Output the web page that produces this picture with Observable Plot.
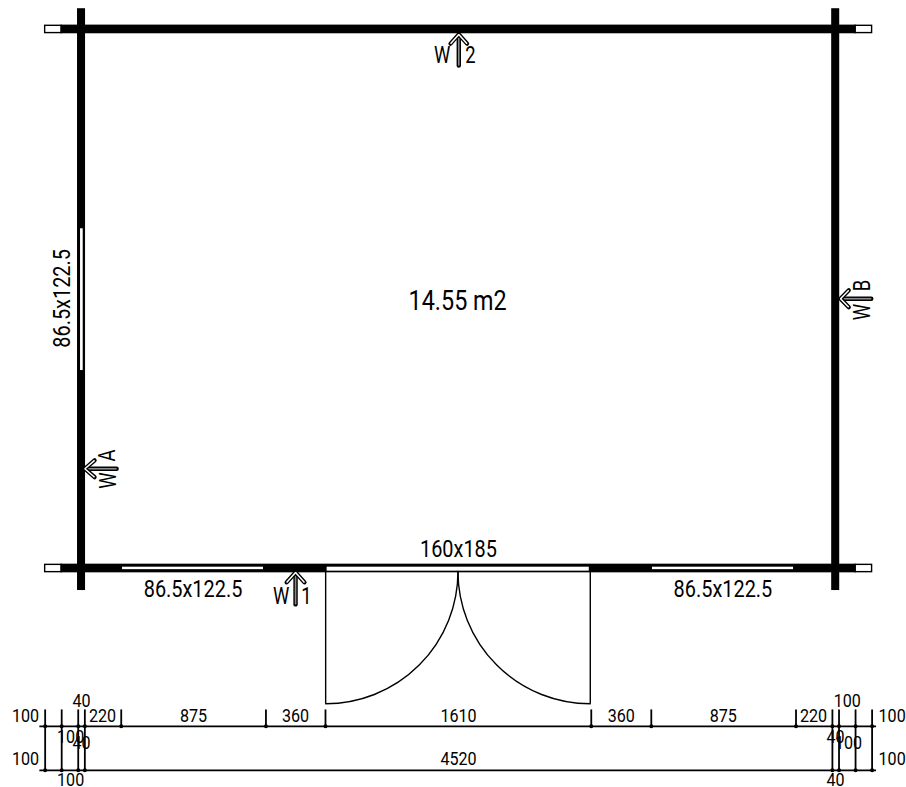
<!DOCTYPE html>
<html>
<head>
<meta charset="utf-8">
<script src="https://cdn.jsdelivr.net/npm/d3@7"></script>
<script src="https://cdn.jsdelivr.net/npm/@observablehq/plot@0.6"></script>
<style>
html,body{margin:0;padding:0;background:#fff}
svg{display:block}
</style>
</head>
<body>
<div id="chart"></div>
<script>
const wallsH = [
  {x1:-140, x2:4660, y1:-22, y2:22},
  {x1:-140, x2:4660, y1:3237, y2:3281}
];
const wallsV = [
  {x1:-40, x2:0, y1:-121, y2:3388},
  {x1:4520, x2:4560, y1:-121, y2:3388}
];
const wallEnds = [
  {x1:-240, x2:-140, y1:-22, y2:22},
  {x1:4660, x2:4760, y1:-22, y2:22},
  {x1:-240, x2:-140, y1:3237, y2:3281},
  {x1:4660, x2:4760, y1:3237, y2:3281}
];
const openings = [
  {x1:228, x2:1080, y1:3251, y2:3266},
  {x1:3432, x2:4285, y1:3251, y2:3266},
  {x1:1465, x2:3050, y1:3251, y2:3275},
  {x1:-26, x2:-10, y1:1205, y2:2062}
];
const doorJambs = [
  {x:1456, y1:3277, y2:4077},
  {x:3056, y1:3277, y2:4077}
];
const doorSwings = [
  {s:"L", x:1456, y:4077}, {s:"L", x:2256, y:4077}, {s:"L", x:2256, y:3277},
  {s:"R", x:3056, y:4077}, {s:"R", x:2256, y:4077}, {s:"R", x:2256, y:3277}
];
const dimRows = [4213, 4479];
const dimSpan = [-272, 4787];
const shortTicks = [220, 1095, 1455, 3062, 3425, 4300];
const longTicks = [-240, -140, -40, 0, 4520, 4560, 4660, 4760];
const tickTop = 4114;
const tickBottom = 4490;

const arrowHeads = [
  {a:"2", x:2211, y:86}, {a:"2", x:2261, y:30}, {a:"2", x:2311, y:86},
  {a:"1", x:1220, y:3343}, {a:"1", x:1274, y:3283}, {a:"1", x:1328, y:3343},
  {a:"A", x:59, y:2605}, {a:"A", x:0, y:2656}, {a:"A", x:59, y:2707},
  {a:"B", x:4619, y:1577}, {a:"B", x:4569, y:1628}, {a:"B", x:4619, y:1679}
];
const arrowShafts = [
  {a:"2", x:2261, y:40}, {a:"2", x:2261, y:218},
  {a:"1", x:1274, y:3293}, {a:"1", x:1274, y:3476},
  {a:"A", x:10, y:2656}, {a:"A", x:192, y:2656},
  {a:"B", x:4579, y:1628}, {a:"B", x:4755, y:1628}
];

const dimLabels = [
  {t:"100", x:-359, y:4154}, {t:"100", x:-359, y:4414},
  {t:"40", x:-20, y:4061}, {t:"220", x:107, y:4154},
  {t:"875", x:657, y:4154}, {t:"360", x:1274, y:4154},
  {t:"1610", x:2259, y:4154}, {t:"360", x:3243, y:4154},
  {t:"875", x:3860, y:4154}, {t:"220", x:4406, y:4154},
  {t:"100", x:4610, y:4061}, {t:"100", x:4881, y:4154},
  {t:"100", x:4881, y:4414}, {t:"40", x:4539, y:4281},
  {t:"100", x:4617, y:4317}, {t:"100", x:-86, y:4281},
  {t:"40", x:-20, y:4317}, {t:"100", x:-86, y:4541},
  {t:"40", x:4539, y:4541}, {t:"4520", x:2259, y:4414}
];
const planLabels = [
  {t:"160x185", x:2259, y:3144},
  {t:"86.5x122.5", x:654, y:3386},
  {t:"86.5x122.5", x:3858, y:3386}
];
const sideLabel = [{t:"86.5x122.5", x:-135, y:1626}];
const areaLabel = [{t:"14.55 m2", x:2254, y:1645}];
const arrowLabels = [
  {t:"W", x:2161, y:157}, {t:"2", x:2332, y:157},
  {t:"W", x:1187, y:3432}, {t:"1", x:1340, y:3432}
];
const arrowLabelsRot = [
  {t:"W", x:143, y:2727}, {t:"A", x:135, y:2576},
  {t:"W", x:4700, y:1709}, {t:"B", x:4700, y:1548}
];

// Curve that rounds a three-point corner into a quarter circle.
const quarterArc = ctx => {
  let pts = [];
  return {
    lineStart(){ pts = []; },
    point(x, y){ pts.push([x, y]); },
    lineEnd(){
      const [a, b, c] = pts;
      ctx.moveTo(a[0], a[1]);
      ctx.arcTo(b[0], b[1], c[0], c[1], Math.hypot(a[0]-b[0], a[1]-b[1]));
    },
    areaStart(){}, areaEnd(){}
  };
};

const font = "Roboto, sans-serif";
const txt = (data, size, extra={}) => Plot.text(data, {
  x:"x", y:"y", text:"t", fontSize:size, fontFamily:font, fill:"#000",
  textAnchor:"middle", lineAnchor:"middle", ...extra
});

const dimTickMarks = [];
for (const r of dimRows) for (const x of longTicks) dimTickMarks.push({x, y:r});
for (const x of shortTicks) dimTickMarks.push({x, y:dimRows[0]});

const chart = Plot.plot({
  width:906, height:787,
  marginTop:0, marginRight:0, marginBottom:0, marginLeft:0,
  style:{background:"#fff"},
  x:{domain:[-510,4968], range:[0,906], axis:null},
  y:{domain:[-175,4583], range:[0,787], axis:null},
  marks:[
    Plot.rect(wallEnds, {x1:"x1", x2:"x2", y1:"y1", y2:"y2", fill:"#fff", stroke:"#000", strokeWidth:1.4}),
    Plot.rect(wallsH, {x1:"x1", x2:"x2", y1:"y1", y2:"y2", fill:"#000", stroke:"#000", strokeWidth:1.4}),
    Plot.rect(wallsV, {x1:"x1", x2:"x2", y1:"y1", y2:"y2", fill:"#000", stroke:"#000", strokeWidth:1.4}),
    Plot.rect(openings, {x1:"x1", x2:"x2", y1:"y1", y2:"y2", fill:"#fff"}),
    Plot.ruleX(doorJambs, {x:"x", y1:"y1", y2:"y2", stroke:"#000", strokeWidth:1.4}),
    Plot.line(doorSwings, {x:"x", y:"y", z:"s", curve:quarterArc, stroke:"#000", strokeWidth:1.4, fill:"none"}),
    Plot.ruleY(dimRows, {x1:dimSpan[0], x2:dimSpan[1], stroke:"#000", strokeWidth:1.8}),
    Plot.ruleX(shortTicks, {y1:tickTop, y2:dimRows[0]+12, stroke:"#000", strokeWidth:1.8}),
    Plot.ruleX(longTicks, {y1:tickTop, y2:tickBottom, stroke:"#000", strokeWidth:1.8}),
    Plot.dot(dimTickMarks, {x:"x", y:"y", r:2, fill:"#000"}),
    Plot.line(arrowShafts, {x:"x", y:"y", z:"a", stroke:"#000", strokeWidth:4.4, strokeLinecap:"round"}),
    Plot.line(arrowShafts, {x:"x", y:"y", z:"a", stroke:"#8a8a8a", strokeWidth:1.6, strokeLinecap:"butt"}),
    Plot.line(arrowHeads, {x:"x", y:"y", z:"a", stroke:"#000", strokeWidth:4.2, strokeLinejoin:"miter", strokeLinecap:"round"}),
    Plot.line(arrowHeads, {x:"x", y:"y", z:"a", stroke:"#fff", strokeWidth:1.5, strokeLinejoin:"miter", strokeLinecap:"butt"}),
    txt(dimLabels, 18.5),
    txt(planLabels, 23),
    txt(sideLabel, 23, {rotate:-90}),
    txt(areaLabel, 27),
    txt(arrowLabels, 23),
    txt(arrowLabelsRot, 23, {rotate:-90})
  ]
});
document.getElementById("chart").appendChild(chart);
// The reference lettering is a narrow drafting face: condense each real text run.
chart.querySelectorAll("text").forEach(t => {
  const n = t.textContent.length;
  const squeeze = n === 1 ? 0.8 : n > 4 ? 0.865 : 0.87;
  t.setAttribute("textLength", t.getComputedTextLength() * squeeze);
  t.setAttribute("lengthAdjust", "spacingAndGlyphs");
});
</script>
</body>
</html>
